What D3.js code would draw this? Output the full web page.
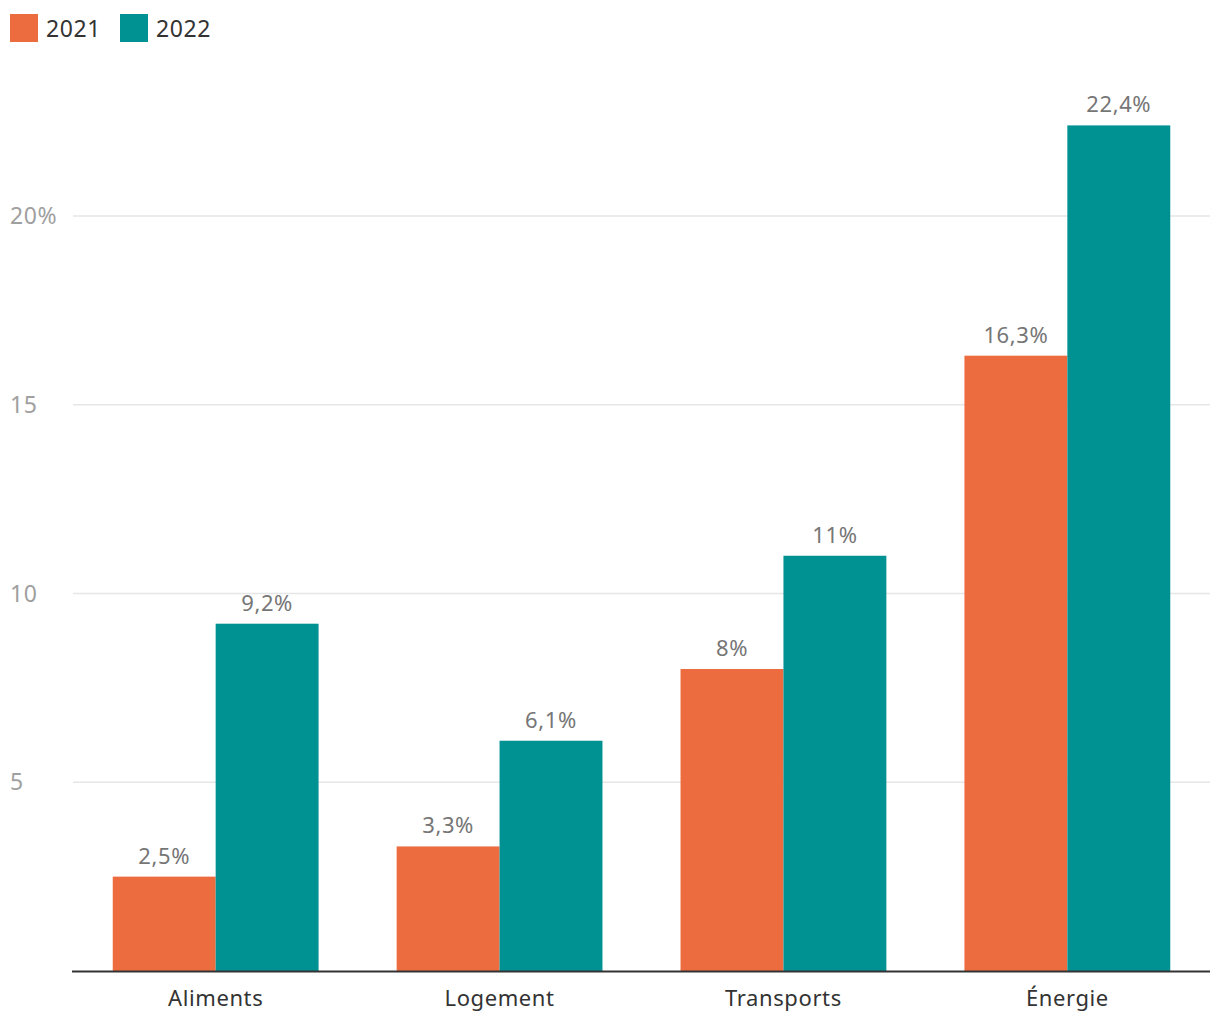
<!DOCTYPE html>
<html>
<head>
<meta charset="utf-8">
<script src="https://cdn.jsdelivr.net/npm/d3@7"></script>
<style>
  body { margin: 0; background: #fff; }
  text { font-family: "Noto Sans", sans-serif; letter-spacing: 0.6px; }
</style>
</head>
<body>
<svg id="chart" width="1220" height="1020"></svg>
<script>
// data
var categories = ["Aliments", "Logement", "Transports", "Énergie"]
var years = ["2021", "2022"]
var values2021 = [2.5, 3.3, 8, 16.3]
var values2022 = [9.2, 6.1, 11, 22.4]
var yTicks = [5, 10, 15, 20]

var colors = { "2021": "#ec6c3f", "2022": "#009193" }

var svg = d3.select("#chart")
var margin = { top: 0, left: 73, right: 10, bottom: 49 }
var width = 1220, height = 1020

var rows = categories.map(function(c, i) {
  return { cat: c, vals: [
    { year: "2021", v: values2021[i] },
    { year: "2022", v: values2022[i] }
  ] }
})

var x = d3.scaleBand()
  .domain(categories)
  .range([margin.left, width - margin.right])
  .paddingInner(0.275)
  .paddingOuter(0.14)

var x1 = d3.scaleBand()
  .domain(years)
  .range([0, x.bandwidth()])

var y = d3.scaleLinear()
  .domain([0, 20])
  .range([971, 216])

var fmt = function(v) { return String(v).replace(".", ",") + "%" }

// grid lines
svg.append("g")
  .selectAll("line")
  .data(yTicks)
  .enter()
  .append("line")
    .attr("x1", margin.left)
    .attr("x2", width - margin.right)
    .attr("y1", function(d) { return y(d) })
    .attr("y2", function(d) { return y(d) })
    .style("stroke", "#e6e6e6")
    .style("stroke-width", 1.5)

svg.append("g")
  .selectAll("text")
  .data(yTicks)
  .enter()
  .append("text")
    .attr("x", 10)
    .attr("y", function(d) { return y(d) + 8 })
    .style("fill", "#a0a0a0")
    .style("font-size", "23px")
    .text(function(d) { return d === 20 ? d + "%" : d })

// bars
var groups = svg.append("g")
  .selectAll("g")
  .data(rows)
  .enter()
  .append("g")
    .attr("transform", function(d) { return "translate(" + x(d.cat) + ",0)" })

groups.selectAll("rect")
  .data(function(d) { return d.vals })
  .enter()
  .append("rect")
    .attr("x", function(d) { return x1(d.year) })
    .attr("y", function(d) { return y(d.v) })
    .attr("width", x1.bandwidth())
    .attr("height", function(d) { return y(0) - y(d.v) })
    .style("fill", function(d) { return colors[d.year] })

groups.selectAll("text")
  .data(function(d) { return d.vals })
  .enter()
  .append("text")
    .attr("x", function(d) { return x1(d.year) + x1.bandwidth() / 2 })
    .attr("y", function(d) { return y(d.v) - 13 })
    .attr("text-anchor", "middle")
    .style("fill", "#767676")
    .style("font-size", "22px")
    .text(function(d) { return fmt(d.v) })

// x axis
svg.append("line")
  .attr("x1", margin.left - 1)
  .attr("x2", width - margin.right)
  .attr("y1", y(0) + 0.5)
  .attr("y2", y(0) + 0.5)
  .style("stroke", "#333")
  .style("stroke-width", 2)

svg.append("g")
  .selectAll("text")
  .data(categories)
  .enter()
  .append("text")
    .attr("x", function(d) { return x(d) + x.bandwidth() / 2 })
    .attr("y", 1006)
    .attr("text-anchor", "middle")
    .style("fill", "#333")
    .style("font-size", "22px")
    .text(function(d) { return d })

// legend
var legend = svg.append("g")
  .selectAll("g")
  .data(years)
  .enter()
  .append("g")
    .attr("transform", function(d, i) { return "translate(" + (10 + i * 110) + ",14)" })

legend.append("rect")
  .attr("width", 28)
  .attr("height", 28)
  .style("fill", function(d) { return colors[d] })

legend.append("text")
  .attr("x", 36)
  .attr("y", 23)
  .style("fill", "#333")
  .style("font-size", "23px")
  .text(function(d) { return d })
</script>
</body>
</html>
